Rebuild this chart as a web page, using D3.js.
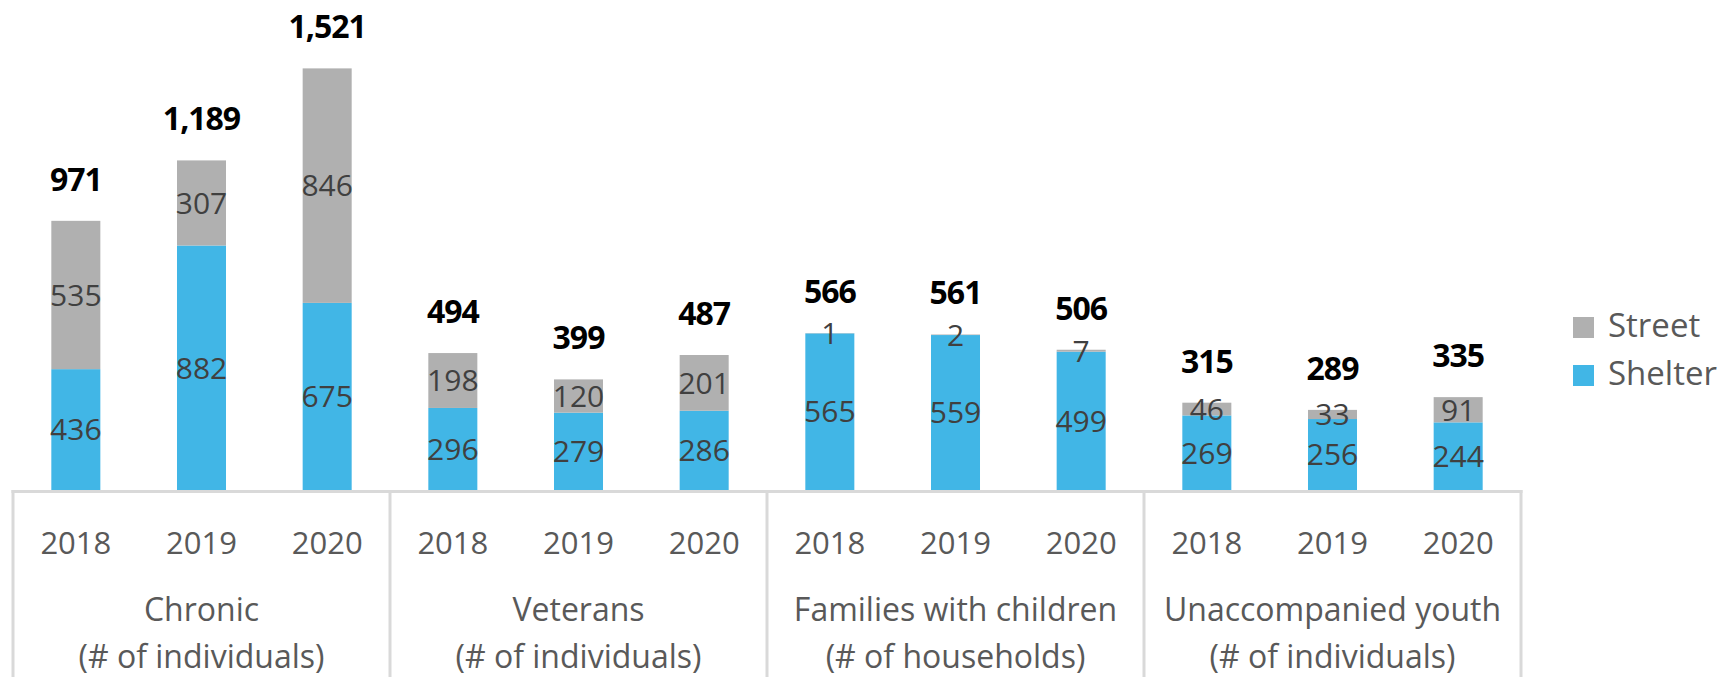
<!DOCTYPE html>
<html>
<head>
<meta charset="utf-8">
<script src="https://cdn.jsdelivr.net/npm/d3@7"></script>
<style>
  html, body { margin: 0; padding: 0; background: #fff; }
  svg { display: block; font-family: "Open Sans", sans-serif; }
</style>
</head>
<body>
<svg id="chart" width="1726" height="677"></svg>
<script>
const groups = ["Chronic", "Veterans", "Families with children", "Unaccompanied youth"];
const groupUnits = ["(# of individuals)", "(# of individuals)", "(# of households)", "(# of individuals)"];
const years = ["2018", "2019", "2020"];
const shelter = [436, 882, 675, 296, 279, 286, 565, 559, 499, 269, 256, 244];
const street  = [535, 307, 846, 198, 120, 201, 1, 2, 7, 46, 33, 91];
const seriesNames = ["Street", "Shelter"];
const seriesColors = ["#b0b0b0", "#41b6e6"];

const rows = [];
groups.forEach((g, gi) => years.forEach((yr, yi) => {
  const i = gi * years.length + yi;
  rows.push({ key: gi + "-" + yr, group: g, year: yr, Shelter: shelter[i], Street: street[i] });
}));

const svg = d3.select("#chart");
const left = 13, right = 1521, base = 490;

const x = d3.scaleBand().domain(rows.map(d => d.key)).range([left, right])
  .paddingInner(0.61).paddingOuter(0.305);
const xg = d3.scaleBand().domain(groups).range([left, right]);
const y = d3.scaleLinear().domain([0, 1600]).range([base, base - 1600 * 0.2772]);

const stack = d3.stack().keys(["Shelter", "Street"]);
const stacked = stack(rows);
const color = d3.scaleOrdinal().domain(seriesNames).range(seriesColors);

// bars
const layers = svg.append("g").selectAll("g").data(stacked).join("g")
  .attr("fill", d => color(d.key));
layers.selectAll("rect").data(d => d.map(v => Object.assign(v, { series: d.key })))
  .join("rect")
  .attr("x", d => x(d.data.key))
  .attr("width", x.bandwidth())
  .attr("y", d => y(d[1]))
  .attr("height", d => y(d[0]) - y(d[1]));

// segment labels
layers.selectAll("text").data(d => d).join("text")
  .attr("x", d => x(d.data.key) + x.bandwidth() / 2)
  .attr("y", d => (y(d[0]) + y(d[1])) / 2)
  .attr("dy", "0.36em")
  .attr("text-anchor", "middle")
  .attr("fill", "#404040")
  .attr("font-size", 30)
  .text(d => d[1] - d[0]);

// totals
svg.append("g").selectAll("text").data(rows).join("text")
  .attr("x", d => x(d.key) + x.bandwidth() / 2)
  .attr("y", d => y(d.Shelter + d.Street) - 30)
  .attr("text-anchor", "middle")
  .attr("font-weight", 700)
  .attr("font-size", 32)
  .attr("letter-spacing", "-1")
  .attr("fill", "#000")
  .text(d => d3.format(",")(d.Shelter + d.Street));

// x axis (years)
const axis = svg.append("g").attr("transform", `translate(0,${base + 1.5})`)
  .call(d3.axisBottom(x).tickSize(0).tickSizeOuter(0).tickPadding(0)
    .tickFormat(k => k.split("-")[1]));
axis.select(".domain").attr("stroke", "#d9d9d9").attr("stroke-width", 3)
  .attr("d", `M${left - 1.5},0H${right + 1.5}`);
axis.selectAll(".tick text")
  .attr("y", 62).attr("dy", 0)
  .attr("font-family", "'Open Sans', sans-serif")
  .attr("font-size", 31).attr("fill", "#595959");

// group boundaries
const bounds = groups.map(g => xg(g)).concat([right]);
svg.append("g").selectAll("line").data(bounds).join("line")
  .attr("x1", d => d).attr("x2", d => d)
  .attr("y1", base).attr("y2", 680)
  .attr("stroke", "#d9d9d9").attr("stroke-width", 3);

// group labels
const gl = svg.append("g").selectAll("text").data(groups).join("text")
  .attr("x", g => xg(g) + xg.bandwidth() / 2)
  .attr("text-anchor", "middle")
  .attr("font-size", 32).attr("fill", "#595959");
gl.append("tspan").attr("x", g => xg(g) + xg.bandwidth() / 2).attr("y", 621).text(g => g);
gl.append("tspan").attr("x", g => xg(g) + xg.bandwidth() / 2).attr("y", 668)
  .text((g, i) => groupUnits[i]);

// legend
const lg = svg.append("g").selectAll("g").data(seriesNames).join("g")
  .attr("transform", (d, i) => `translate(1573,${317 + i * 48})`);
lg.append("rect").attr("width", 21).attr("height", 21).attr("fill", d => color(d));
lg.append("text").attr("x", 35).attr("y", 20)
  .attr("font-size", 33).attr("fill", "#595959").text(d => d);
</script>
</body>
</html>
